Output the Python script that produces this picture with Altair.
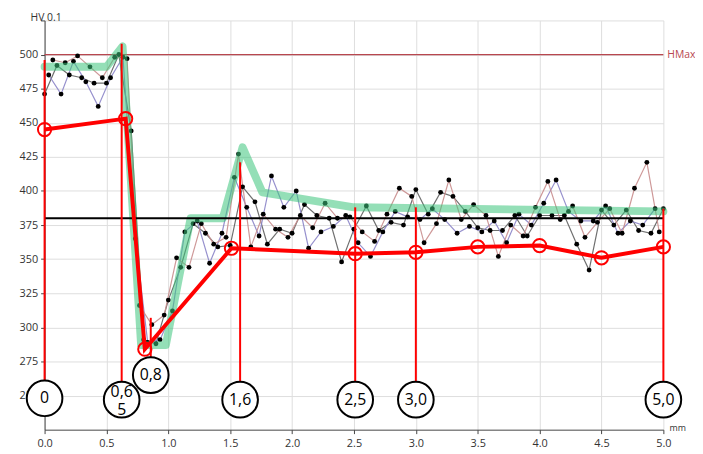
import altair as alt
import pandas as pd

# Hardness readings (HV 0.1), three interleaved traverses, read in order along x (1/30 mm spacing)
meas_vals = [471, 485, 496, 492, 471, 494, 485, 495, 499, 483,
             480, 491, 479, 462, 483, 479, 483, 498, 500, 498,
             497, 444, 365, 316, 291, 289, 302, 288, 291, 309,
             320, 312, 351, 344, 370, 344, 376, 378, 376, 369,
             347, 361, 359, 369, 366, 360, 410, 427, 403, 388,
             359, 392, 367, 383, 361, 411, 372, 372, 388, 366,
             369, 400, 382, 390, 358, 373, 382, 370, 391, 380,
             374, 380, 348, 382, 381, 372, 362, 370, 389, 352,
             363, 371, 370, 383, 377, 385, 402, 375, 381, 396,
             401, 379, 362, 383, 387, 376, 399, 379, 408, 396,
             369, 379, 385, 374, 390, 373, 370, 382, 371, 378,
             352, 371, 362, 375, 382, 383, 367, 367, 375, 388,
             382, 391, 407, 382, 408, 379, 382, 385, 389, 361,
             378, 366, 342, 378, 377, 386, 389, 387, 375, 369,
             369, 386, 378, 402, 371, 375, 421, 369, 387, 370,
             387]
meas_step = 1 / 30
series_names = ["A", "B", "C"]
series_colors = ["#5f5f5f", "#8b84c8", "#c98d8d"]

# Smoothed envelope (green band)
green_x = [0.0, 0.5, 0.63, 0.78, 0.98, 1.18, 1.44, 1.6, 1.76, 2.5, 5.0]
green_y = [491, 491, 506, 287, 287, 380, 380, 432, 399, 388, 385]

# Evaluated profile (red line with hollow circles)
prof_x = [0.0, 0.655, 0.81, 1.51, 2.51, 3.0, 3.5, 4.0, 4.5, 5.0]
prof_y = [445, 453, 284, 358, 354, 355, 359, 360, 351, 359]

# Position markers
mark_x = [0.0, 0.623, 0.858, 1.58, 2.51, 3.0, 5.0]
mark_top = [496, 508, 307, 421, 388, 388, 387]
mark_lab_y = [248, 247, 265, 247, 247, 247, 247]
mark_text = ["0", "0,6\n5", "0,8", "1,6", "2,5", "3,0", "5,0"]

hmax = 500
ref_level = 380

x_ticks = [0.0, 0.5, 1.0, 1.5, 2.0, 2.5, 3.0, 3.5, 4.0, 4.5, 5.0]
y_ticks = [250, 275, 300, 325, 350, 375, 400, 425, 450, 475, 500, 525]

meas_df = pd.DataFrame({
    "x": [i * meas_step for i in range(len(meas_vals))],
    "v": meas_vals,
    "s": [series_names[i % 3] for i in range(len(meas_vals))],
})
green_df = pd.DataFrame({"x": green_x, "v": green_y, "o": list(range(len(green_x)))})
prof_df = pd.DataFrame({"x": prof_x, "v": prof_y, "o": list(range(len(prof_x)))})
mark_df = pd.DataFrame({"x": mark_x, "top": mark_top, "v": mark_lab_y, "t": mark_text})

xs = alt.Scale(domain=[0, 5], nice=False, zero=False)
ys = alt.Scale(domain=[225, 525], nice=False, zero=False)

x_axis = alt.Axis(values=x_ticks, format=".1f", title="mm", titleX=640, titleY=-2,
                  titleAlign="center", titleBaseline="middle", titleFontSize=9,
                  titleFontWeight="normal", titleColor="#333333",
                  labelFontSize=11, labelColor="#333333", labelPadding=4,
                  tickSize=4, tickColor="#444444", domainColor="#444444",
                  gridColor="#dedede", labelFlush=False)
y_axis = alt.Axis(values=y_ticks, labelExpr="datum.value > 500 ? '' : datum.label",
                  title="HV 0.1", titleAngle=0, titleX=1, titleY=-3,
                  titleAlign="center", titleBaseline="middle", titleFontSize=10.5,
                  titleFontWeight="normal", titleColor="#333333",
                  labelFontSize=11, labelColor="#333333", labelPadding=3,
                  tickSize=4, tickColor="#444444", domainColor="#444444",
                  gridColor="#dedede")

X = alt.X("x:Q", scale=xs, axis=x_axis)
Y = alt.Y("v:Q", scale=ys, axis=y_axis)

hmax_df = pd.DataFrame({"v": [hmax], "t": ["HMax"]})
ref_df = pd.DataFrame({"v": [ref_level]})

hmax_rule = alt.Chart(hmax_df).mark_rule(color="#b8474f", strokeWidth=1.3).encode(y=Y)
hmax_text = alt.Chart(hmax_df).mark_text(align="left", baseline="middle", color="#b8474f",
                                         fontSize=10.5, font="Open Sans").encode(
    x=alt.value(630), y=Y, text="t:N")

meas_lines = alt.Chart(meas_df).mark_line(strokeWidth=1.2, opacity=0.9).encode(
    x=X, y=Y,
    color=alt.Color("s:N", scale=alt.Scale(domain=series_names, range=series_colors), legend=None),
    detail="s:N")
meas_dots = alt.Chart(meas_df).mark_circle(color="black", size=24, opacity=1).encode(x=X, y=Y)

green = alt.Chart(green_df).mark_line(color="#3cc47c", opacity=0.55, strokeWidth=8,
                                      strokeJoin="round", strokeCap="round").encode(
    x=X, y=Y, order="o:Q")

ref_rule = alt.Chart(ref_df).mark_rule(color="black", strokeWidth=2).encode(y=Y)

verticals = alt.Chart(mark_df).mark_rule(color="#ff0000", strokeWidth=2).encode(
    x=X, y=alt.Y("top:Q", scale=ys, axis=y_axis), y2="v:Q")

prof_line = alt.Chart(prof_df).mark_line(color="#ff0000", strokeWidth=4).encode(
    x=X, y=Y, order="o:Q")
prof_pts = alt.Chart(prof_df).mark_point(shape="circle", size=180, filled=False, color="#ff0000",
                                         strokeWidth=2, opacity=1).encode(x=X, y=Y)

lab_circ = alt.Chart(mark_df).mark_point(shape="circle", size=1300, filled=True, fill="white",
                                         stroke="black", strokeWidth=2, opacity=1).encode(x=X, y=Y)
lab_text_one = alt.Chart(mark_df).transform_filter(
    "indexof(datum.t, '\\n') < 0"
).mark_text(fontSize=16, font="Open Sans", color="black", baseline="middle").encode(
    x=X, y=Y, text="t:N")
lab_text_two = alt.Chart(mark_df).transform_filter(
    "indexof(datum.t, '\\n') >= 0"
).mark_text(fontSize=16, font="Open Sans", color="black", lineBreak="\n", lineHeight=19,
            baseline="middle", dy=-8).encode(
    x=X, y=Y, text="t:N")

chart = alt.layer(
    hmax_rule, hmax_text, meas_lines, meas_dots, green, ref_rule,
    verticals, prof_line, prof_pts, lab_circ, lab_text_one, lab_text_two
).properties(
    width=626, height=414,
    padding={"left": 37, "top": 10, "right": 32, "bottom": 20},
    autosize=alt.AutoSizeParams(type="none"),
).configure_view(stroke=None).configure_axis(labelFont="Open Sans", titleFont="Open Sans")

chart.save("out.html", embed_options={"renderer": "svg", "actions": False})
